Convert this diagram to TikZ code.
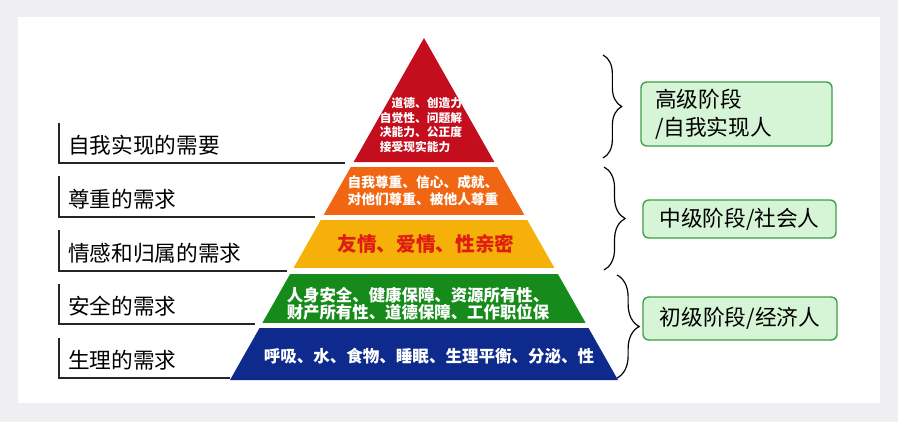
\documentclass[tikz,border=0pt]{standalone}
\usepackage{fontspec}
\setmainfont{Noto Sans CJK SC}
\usetikzlibrary{calc,decorations.pathreplacing}
\definecolor{framegray}{RGB}{239,239,241}
\definecolor{lvred}{RGB}{196,14,30}
\definecolor{lvorange}{RGB}{240,102,18}
\definecolor{lvyellow}{RGB}{246,176,10}
\definecolor{lvgreen}{RGB}{22,138,26}
\definecolor{lvblue}{RGB}{14,42,140}
\definecolor{lovered}{RGB}{222,30,16}
\definecolor{stagegreen}{RGB}{60,160,72}
\definecolor{stagefill}{RGB}{214,245,214}

\begin{document}
\begin{tikzpicture}[x=0.03cm,y=-0.03cm,
	need/.style={anchor=west,inner sep=0pt,font=\fontsize{18.5}{22}\selectfont},
	stage/.style={draw=stagegreen,line width=1.2pt,fill=stagefill,rounded corners=5pt,inner sep=0pt,font=\fontsize{18.5}{24}\selectfont},
	band/.style={text=white,align=center,inner sep=0pt},
	bracket/.style={decorate,decoration={brace,amplitude=#1},line width=1pt}]
	\useasboundingbox (0,0) rectangle (898,422);
	\fill[framegray] (0,0) rectangle (898,422);
	\fill[white] (18,17) rectangle (880,403);
	% pyramid
	\coordinate (apex) at (424,38);
	\coordinate (bl) at (230,380);
	\coordinate (br) at (618,380);
	\foreach \a/\b/\col in {0/0.3626/lvred, 0.3772/0.5175/lvorange, 0.5322/0.6725/lvyellow, 0.6901/0.8333/lvgreen, 0.848/1/lvblue}
		\fill[\col] ($(apex)!\a!(bl)$) -- ($(apex)!\b!(bl)$) -- ($(apex)!\b!(br)$) -- ($(apex)!\a!(br)$) -- cycle;
	\node[band,align=left,font=\bfseries\fontsize{10}{12.3}\selectfont] (self) at (421,125) {\hspace*{1em}道德、创造力\\自觉性、问题解\\决能力、公正度\\接受现实能力};
	\node[band,font=\bfseries\fontsize{11.7}{14.5}\selectfont] (esteem) at (423,191) {自我尊重、信心、成就、\\对他们尊重、被他人尊重};
	\node[band,text=lovered,font=\bfseries\fontsize{16.8}{20}\selectfont] (love) at (426,244) {友情、爱情、性亲密};
	\node[band,font=\bfseries\fontsize{14}{14.5}\selectfont] (safety) at (418,304) {人身安全、健康保障、资源所有性、\\财产所有性、道德保障、工作职位保};
	\node[band,font=\bfseries\fontsize{14.1}{16}\selectfont] (body) at (429,356) {呼吸、水、食物、睡眠、生理平衡、分泌、性};
	% needs on the left
	\foreach \yt/\yb/\xe/\txt [count=\i] in {123/163/345/自我实现的需要, 176/217/315/尊重的需求, 230/271/287/情感和归属的需求, 284/324/255/安全的需求, 338/378/230/生理的需求}{
		\node[need] (need\i) at (68,\yb-18) {\txt};
		\draw[line width=1.3pt,black!85] (59,\yt) -- (59,\yb) -- (\xe,\yb);
	}
	% stages on the right
	\draw[bracket=16pt] (603,55) -- (603,158);
	\draw[bracket=18pt] (604,167) -- (604,270);
	\draw[bracket=19pt] (617,275) -- (617,378);
	\node[stage,minimum width=5.73cm,minimum height=1.92cm,align=left,text width=4.89cm] (high) at (736.5,114) {高级阶段\\/自我实现人};
	\node[stage,minimum width=5.79cm,minimum height=1.14cm] (mid) at (739.5,219) {中级阶段/社会人};
	\node[stage,minimum width=5.82cm,minimum height=1.29cm] (low) at (740,318.5) {初级阶段/经济人};
\end{tikzpicture}
\end{document}
